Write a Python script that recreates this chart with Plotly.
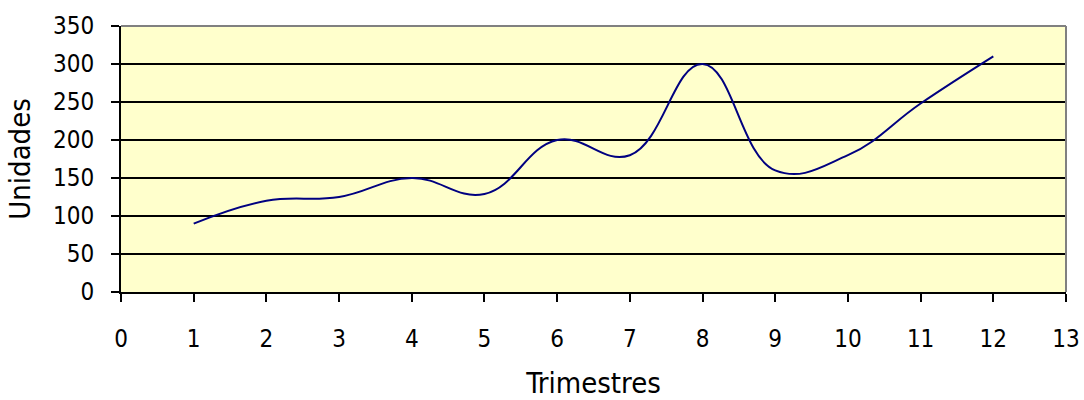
import plotly.graph_objects as go

# Quarterly units
trimestres = [1, 2, 3, 4, 5, 6, 7, 8, 9, 10, 11, 12]
unidades = [90, 120, 125, 150, 129, 200, 180, 300, 160, 180, 248, 310]

x_ticks = list(range(0, 14))
y_ticks = list(range(0, 351, 50))

FONT = "Liberation Sans Narrow, Arial Narrow, DejaVu Sans Condensed, sans-serif"

fig = go.Figure()
fig.add_trace(go.Scatter(
    x=trimestres, y=unidades, mode="lines",
    line=dict(color="#000080", width=2, shape="spline", smoothing=1.2),
    hoverinfo="skip", showlegend=False,
))

fig.update_layout(
    width=1084, height=400,
    margin=dict(l=121, r=18, t=26, b=108),
    paper_bgcolor="white", plot_bgcolor="#FFFFCC",
    font=dict(family=FONT, size=24, color="black"),
    xaxis=dict(
        range=[0, 13], tickvals=x_ticks, ticktext=[str(v) for v in x_ticks],
        showgrid=False, zeroline=False, automargin=False,
        showline=True, linecolor="black", linewidth=2,
        ticks="outside", ticklen=8, tickwidth=2, tickcolor="black",
        ticklabelstandoff=16,
        title=dict(text="Trimestres", standoff=26),
    ),
    yaxis=dict(
        range=[0, 350], tickvals=y_ticks,
        showgrid=True, gridcolor="black", gridwidth=2, zeroline=False,
        automargin=False,
        showline=True, linecolor="black", linewidth=2,
        ticks="outside", ticklen=8, tickwidth=2, tickcolor="black",
        ticklabelstandoff=12,
        title=dict(text="Unidades", standoff=14),
    ),
    shapes=[
        dict(type="line", xref="paper", yref="paper", x0=0, x1=1, y0=1, y1=1,
             line=dict(color="#808080", width=2)),
        dict(type="line", xref="paper", yref="paper", x0=1, x1=1, y0=0, y1=1,
             line=dict(color="#808080", width=2)),
    ],
)

fig.write_html("out.html")
